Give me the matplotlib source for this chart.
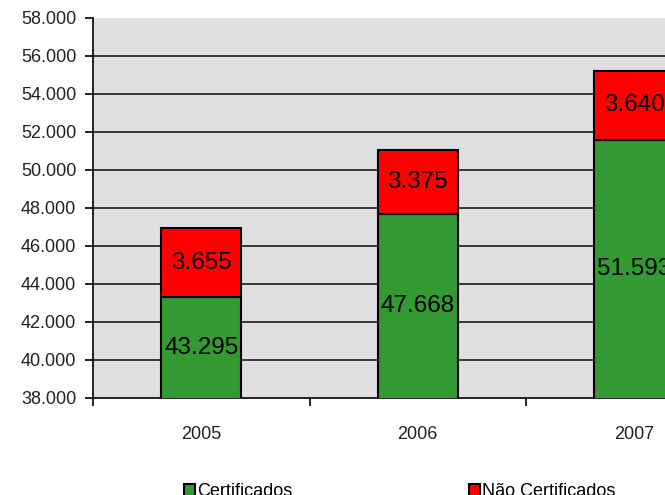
import matplotlib
matplotlib.use("Agg")
import matplotlib.pyplot as plt
from matplotlib.patches import Patch
import numpy as np

years = ["2005", "2006", "2007"]
certificados = [43295, 47668, 51593]
nao_certificados = [3655, 3375, 3640]
y_ticks = list(range(38000, 58001, 2000))

green = "#339933"
red = "#ff0000"

plt.rcParams["font.family"] = ["Liberation Sans", "DejaVu Sans"]


def fmt(v):
    return f"{v:,}".replace(",", ".")


fig = plt.figure(figsize=(6.65, 4.95), dpi=100)
# plot area runs past the right edge of the picture, as in the reference
ax = fig.add_axes([93 / 665, 97 / 495, 649.5 / 665, 380 / 495])
ax.set_facecolor("#e0e0e0")

x = np.arange(len(years))
w = 0.37
ax.bar(x, certificados, w, color=green, edgecolor="black", linewidth=1.5, zorder=3)
ax.bar(x, nao_certificados, w, bottom=certificados, color=red,
       edgecolor="black", linewidth=1.5, zorder=3)

ymin, ymax = 38000, 58000
ax.set_ylim(ymin, ymax)
ax.set_xlim(-0.5, len(years) - 0.5)

for i in range(len(years)):
    c = certificados[i]
    n = nao_certificados[i]
    ax.text(x[i], (ymin + c) / 2, fmt(c), ha="center", va="center",
            fontsize=17.5, zorder=4)
    ax.text(x[i], c + n / 2, fmt(n), ha="center", va="center",
            fontsize=17.5, zorder=4)

ax.set_yticks(y_ticks)
ax.set_yticklabels([fmt(t) for t in y_ticks], fontsize=13, color="#222222")
for t in y_ticks[1:-1]:
    ax.axhline(t, color="#1a1a1a", linewidth=1.2, zorder=1)

# year labels centred under bars, tick marks at category boundaries
ax.set_xticks(x)
ax.set_xticklabels(years, fontsize=13, color="#222222")
ax.tick_params(axis="x", length=0, pad=20)
ax.set_xticks(np.arange(-0.5, len(years), 1.0), minor=True)
ax.tick_params(axis="x", which="minor", length=6, width=1.2, direction="out")
ax.tick_params(axis="y", length=6, width=1.2, direction="out", pad=6)

for s in ["top", "right"]:
    ax.spines[s].set_visible(False)
ax.spines["left"].set_linewidth(1.2)
ax.spines["bottom"].set_linewidth(1.2)

handles = [Patch(facecolor=green, edgecolor="black", linewidth=1.5),
           Patch(facecolor=red, edgecolor="black", linewidth=1.5)]
fig.legend(handles, ["Certificados", "Não Certificados"], loc="center left",
           bbox_to_anchor=(184 / 665, 3 / 495), ncol=2, frameon=False,
           fontsize=13, handlelength=0.62, handleheight=0.62,
           handletextpad=0.1, columnspacing=9.8, borderpad=0, borderaxespad=0)

fig.savefig("out.png", dpi=100)
